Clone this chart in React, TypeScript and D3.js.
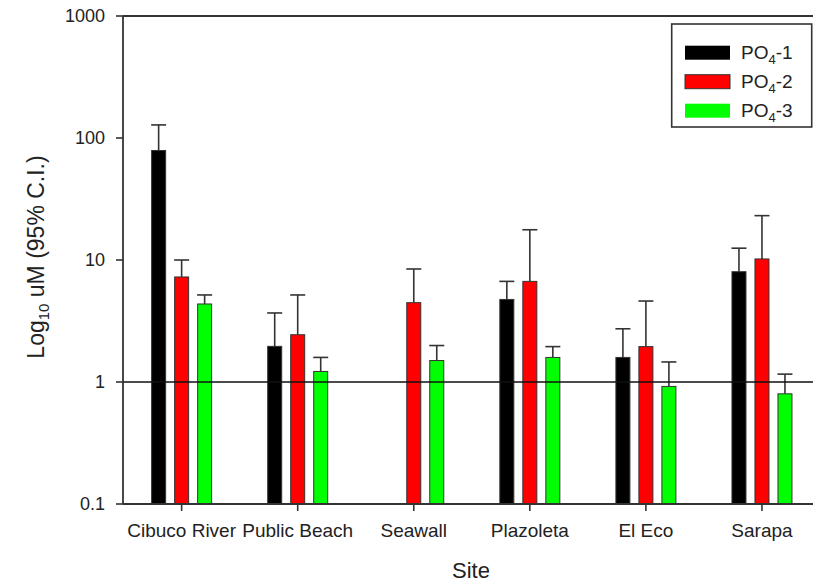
import React from "react";
import * as d3 from "d3";

const sites = ["Cibuco River", "Public Beach", "Seawall", "Plazoleta", "El Eco", "Sarapa"];
const seriesNames = ["PO4-1", "PO4-2", "PO4-3"];
const po4_1 = [79, 1.96, null, 4.75, 1.59, 8.02];
const po4_1Upper = [128, 3.68, null, 6.68, 2.73, 12.5];
const po4_2 = [7.26, 2.44, 4.47, 6.68, 1.95, 10.2];
const po4_2Upper = [10.0, 5.17, 8.44, 17.7, 4.61, 23.1];
const po4_3 = [4.36, 1.22, 1.5, 1.59, 0.92, 0.8];
const po4_3Upper = [5.17, 1.59, 1.99, 1.95, 1.46, 1.16];
const yTicks = [0.1, 1, 10, 100, 1000];
const yTickLabels = ["0.1", "1", "10", "100", "1000"];

const colors = ["#000000", "#ff0000", "#00ff00"];
const values = [po4_1, po4_2, po4_3];
const uppers = [po4_1Upper, po4_2Upper, po4_3Upper];

const W = 813;
const H = 583;
const left = 123;
const top = 16;
const bottom = 504;
const FONT = "'Liberation Sans', Arial, sans-serif";
const AX = "#333";

export default function App() {
  const x = d3.scaleBand<string>().domain(sites).range([123.6, 820]).padding(0);
  const x1 = d3.scaleBand<string>().domain(seriesNames).range([-34.5, 34.5]).padding(0);
  const y = d3.scaleLog().domain([0.1, 1000]).range([bottom, top]);
  const barW = 14;

  return (
    <svg width={W} height={H} style={{ position: "absolute", left: 0, top: 0, background: "#fff" }} fontFamily={FONT}>
      {/* bars */}
      {sites.map((s, i) => (
        <g key={s}>
          {seriesNames.map((n, j) => {
            const v = values[j][i];
            const u = uppers[j][i];
            if (v == null) return null;
            const cx = (x(s) as number) + x.bandwidth() / 2 + (x1(n) as number) + x1.bandwidth() / 2;
            return (
              <g key={n}>
                {u != null && (
                  <g stroke={AX} strokeWidth={1.6}>
                    <line x1={cx} x2={cx} y1={y(v)} y2={y(u)} />
                    <line x1={cx - barW / 2 - 0.5} x2={cx + barW / 2 + 0.5} y1={y(u)} y2={y(u)} />
                  </g>
                )}
                <rect x={cx - barW / 2} y={y(v)} width={barW} height={bottom - y(v)} fill={colors[j]} stroke={AX} strokeWidth={1} />
              </g>
            );
          })}
        </g>
      ))}
      {/* reference line at 1 */}
      <line x1={left} x2={W} y1={y(1)} y2={y(1)} stroke="#111" strokeWidth={1.5} />
      {/* frame */}
      <line x1={left} x2={W} y1={top} y2={top} stroke={AX} strokeWidth={1.8} />
      <line x1={left} x2={W} y1={bottom} y2={bottom} stroke={AX} strokeWidth={1.8} />
      <line x1={left} x2={left} y1={top} y2={bottom} stroke={AX} strokeWidth={1.8} />
      {/* y ticks */}
      {yTicks.map((t, i) => (
        <g key={t}>
          <line x1={left - 7} x2={left} y1={y(t)} y2={y(t)} stroke={AX} strokeWidth={1.6} />
          <text x={105} y={y(t)} dy="0.36em" textAnchor="end" fontSize={18} fill="#222">
            {yTickLabels[i]}
          </text>
        </g>
      ))}
      {/* x ticks */}
      {sites.map((s) => {
        const cx = (x(s) as number) + x.bandwidth() / 2;
        return (
          <g key={s}>
            <line x1={cx} x2={cx} y1={bottom} y2={bottom + 7} stroke={AX} strokeWidth={1.6} />
            <text x={cx} y={537} textAnchor="middle" fontSize={19} fill="#222">
              {s}
            </text>
          </g>
        );
      })}
      {/* axis titles */}
      <text x={471} y={578} textAnchor="middle" fontSize={22} fill="#222">Site</text>
      <text transform="translate(44,257) rotate(-90)" textAnchor="middle" fontSize={23} fill="#222">
        Log<tspan fontSize={15} dy={5}>10</tspan>
        <tspan dy={-5}> uM (95% C.I.)</tspan>
      </text>
      {/* legend */}
      <rect x={671.7} y={24} width={140} height={103} fill="#fff" stroke={AX} strokeWidth={1.6} />
      {seriesNames.map((n, j) => {
        const ry = 45.7 + j * 29;
        return (
          <g key={n}>
            <rect x={685} y={ry} width={45} height={14} fill={colors[j]} stroke={j === 1 ? AX : "none"} strokeWidth={1} />
            <text x={741} y={ry + 13} fontSize={19} fill="#222">
              PO<tspan fontSize={13} dy={5}>4</tspan>
              <tspan dy={-5}>-{j + 1}</tspan>
            </text>
          </g>
        );
      })}
    </svg>
  );
}
